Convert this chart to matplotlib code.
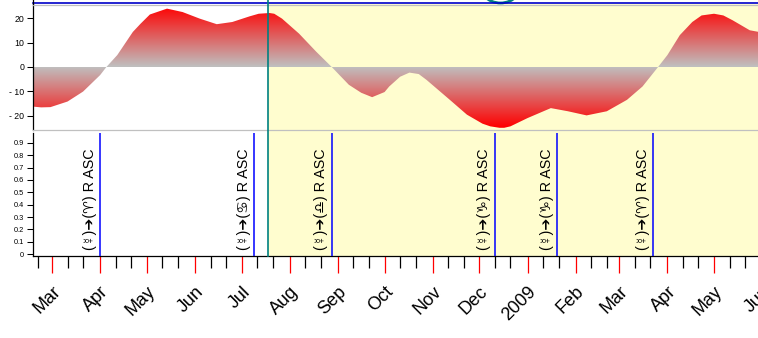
import numpy as np
import matplotlib
matplotlib.use('Agg')
import matplotlib.pyplot as plt
import matplotlib.dates as mdates
from matplotlib.patches import PathPatch, Rectangle, Arc
from matplotlib.path import Path
from matplotlib.lines import Line2D
from matplotlib.transforms import blended_transform_factory, ScaledTranslation

# ---------------- data ----------------
decl_dates = ['2008-02-18', '2008-02-23', '2008-02-29', '2008-03-11', '2008-03-21', '2008-04-01',
              '2008-04-05', '2008-04-12', '2008-04-22', '2008-04-27', '2008-05-03', '2008-05-14',
              '2008-05-24', '2008-06-04', '2008-06-15', '2008-06-25', '2008-07-06', '2008-07-12',
              '2008-07-19', '2008-07-22', '2008-07-27', '2008-08-07', '2008-08-18', '2008-08-28',
              '2008-09-08', '2008-09-16', '2008-09-23', '2008-10-01', '2008-10-04', '2008-10-11',
              '2008-10-17', '2008-10-23', '2008-10-28', '2008-11-12', '2008-11-23', '2008-12-03',
              '2008-12-08', '2008-12-14', '2008-12-17', '2008-12-21', '2009-01-01', '2009-01-16',
              '2009-01-27', '2009-02-08', '2009-02-21', '2009-03-06', '2009-03-16', '2009-03-26',
              '2009-04-01', '2009-04-09', '2009-04-17', '2009-04-23', '2009-05-01', '2009-05-07',
              '2009-05-13', '2009-05-24', '2009-05-30']
decl_values = [-16.3, -16.6, -16.5, -14.2, -10.1, -3.3,
               0.0, 4.9, 14.4, 17.8, 21.6, 24.0,
               22.6, 19.9, 17.6, 18.5, 20.8, 21.9,
               22.2, 21.9, 19.9, 13.7, 6.3, 0.0,
               -7.3, -10.6, -12.4, -10.3, -8.0, -4.0,
               -2.3, -2.9, -5.3, -13.5, -19.6, -23.3,
               -24.4, -25.0, -25.0, -24.4, -21.0, -16.9,
               -18.2, -19.9, -18.2, -13.5, -8.0, 0.0,
               4.9, 13.1, 18.5, 21.2, 21.9, 21.2,
               19.2, 15.1, 14.4]

event_dates = ['2008-04-01', '2008-07-09', '2008-08-28', '2008-12-11', '2009-01-20', '2009-03-23']
event_labels = ['(☿)➔(♈) R ASC', '(☿)➔(♋) R ASC', '(☿)➔(♎) R ASC',
                '(☿)➔(♑) R ASC', '(☿)➔(♑) R ASC', '(☿)➔(♈) R ASC']
marker_date = '2008-07-18'

month_dates = ['2008-03-01', '2008-04-01', '2008-05-01', '2008-06-01', '2008-07-01', '2008-08-01',
               '2008-09-01', '2008-10-01', '2008-11-01', '2008-12-01', '2009-01-01', '2009-02-01',
               '2009-03-01', '2009-04-01', '2009-05-01', '2009-06-01']
month_labels = ['Mar', 'Apr', 'May', 'Jun', 'Jul', 'Aug', 'Sep', 'Oct', 'Nov', 'Dec', '2009',
                'Feb', 'Mar', 'Apr', 'May', 'Jun']

top_yticks = [20, 10, 0, -10, -20]
top_yticklabels = ['20', '10', '0', '- 10', '- 20']
bottom_yticks = [0, 0.1, 0.2, 0.3, 0.4, 0.5, 0.6, 0.7, 0.8, 0.9]
bottom_yticklabels = ['0', '0.1', '0.2', '0.3', '0.4', '0.5', '0.6', '0.7', '0.8', '0.9']

# ---------------- figure ----------------
W, H = 758, 338
fig = plt.figure(figsize=(W / 100, H / 100), dpi=100)
fig.patch.set_facecolor('white')

def px_rect(l, t, r, b):
    return [l / W, 1 - b / H, (r - l) / W, (b - t) / H]

ax1 = fig.add_axes(px_rect(33, 4.5, 758, 129.5))
ax2 = fig.add_axes(px_rect(33, 132.5, 758, 256), sharex=ax1)
for a in (ax1, ax2):
    a.set_facecolor('none')

xd = mdates.datestr2num(decl_dates)
yv = np.array(decl_values)
mar1 = mdates.datestr2num('2008-03-01')
x0 = mar1 - 12.23
x1 = mar1 + 454.3
ylim1 = (-25.7, 25.7)

# gradient fill (gray at 0 -> red at extremes)
yy = np.linspace(ylim1[0], ylim1[1], 500)
t = np.clip(np.abs(yy) / 25.0, 0, 1)
gray = np.array([0.75, 0.75, 0.75])
red = np.array([1.0, 0.0, 0.0])
img = gray[None, :] * (1 - t[:, None]) + red[None, :] * t[:, None]
img = img[:, None, :]
im = ax1.imshow(img, extent=[x0, x1, ylim1[0], ylim1[1]], origin='lower',
                aspect='auto', interpolation='bilinear', zorder=2)
verts = np.vstack([np.column_stack([xd, yv]),
                   [[xd[-1], 0], [xd[0], 0], [xd[0], yv[0]]]])
clip = PathPatch(Path(verts, closed=True), transform=ax1.transData,
                 facecolor='none', edgecolor='none')
ax1.add_patch(clip)
im.set_clip_path(clip)

ax1.set_xlim(x0, x1)
ax1.set_ylim(*ylim1)
ax1.set_yticks(top_yticks, top_yticklabels, fontsize=6.3, family='Liberation Sans')
ax1.tick_params(axis='y', length=4.3, width=0.75, pad=2, color='black')
ax1.tick_params(axis='x', which='both', bottom=False, labelbottom=False)
ax1.spines['right'].set_visible(False)
ax1.spines['top'].set_color('#c0c0c0')
ax1.spines['bottom'].set_color('#c0c0c0')
ax1.spines['left'].set_color('black')
for s in ax1.spines.values():
    s.set_linewidth(0.9)

# bottom panel
ax2.set_ylim(-0.016, 0.985)
ax2.set_yticks(bottom_yticks, bottom_yticklabels, fontsize=5.3, family='Liberation Sans')
ax2.tick_params(axis='y', length=4.3, width=0.75, pad=2)
ax2.spines['right'].set_visible(False)
ax2.spines['top'].set_visible(False)
for s in ('left', 'bottom'):
    ax2.spines[s].set_color('black')
    ax2.spines[s].set_linewidth(0.9)

ax2.xaxis.set_major_locator(mdates.MonthLocator())
ax2.xaxis.set_minor_locator(mdates.DayLocator(bymonthday=[11, 21]))
ax2.tick_params(axis='x', which='major', length=12.2, width=0.9, color='red',
                direction='out', labelbottom=False)
ax2.tick_params(axis='x', which='minor', length=8.6, width=0.9, color='black',
                direction='out', labelbottom=False)

# month labels
md = mdates.datestr2num(month_dates)
lab_tr = blended_transform_factory(ax2.transData, ax2.transAxes) + \
    ScaledTranslation(6 / 100, -33 / 100, fig.dpi_scale_trans)
for d, lab in zip(md, month_labels):
    ax2.text(d, 0, lab, transform=lab_tr, rotation=45, rotation_mode='anchor',
             ha='right', va='center', fontsize=13, family='Liberation Sans',
             clip_on=False)

# event lines and labels
ed = mdates.datestr2num(event_dates)
txt_tr = ax2.transData + ScaledTranslation(-3.5 / 100, 0, fig.dpi_scale_trans)
for d, lab in zip(ed, event_labels):
    ax2.axvline(d, color='#0000ff', lw=1.1, zorder=3)
    ax2.text(d, 0.035, lab, transform=txt_tr, rotation=90, ha='right', va='bottom',
             fontsize=10.3, family=['Liberation Sans', 'DejaVu Sans'], color='black')

# yellow background from marker date on, and marker line across panels
m = mdates.datestr2num(marker_date)
ftr = blended_transform_factory(ax1.transData, fig.transFigure)
rect = Rectangle((m, (H - 256) / H), x1 - m, (256 - 3.8) / H, transform=ftr,
                 facecolor='#fffdcf', edgecolor='none', zorder=-1)
fig.add_artist(rect)
fig.add_artist(Line2D([m, m], [(H - 256) / H, 1.0], transform=ftr,
                      color='#008080', lw=1.2, zorder=10))

# top strip remnants of the panel above
ov = fig.add_axes([0, 0, 1, 1], zorder=5)
ov.set_xlim(0, W)
ov.set_ylim(H, 0)
ov.axis('off')
ov.patch.set_alpha(0)
ov.plot([33, W], [3.3, 3.3], color='#0000c8', lw=1.2)
ov.plot([33, 33], [0, 3.5], color='black', lw=0.9)
ov.add_patch(Arc((500.5, -20), 46, 46, theta1=0, theta2=360, color='#008080', lw=2))

fig.savefig('out.png', dpi=100)
